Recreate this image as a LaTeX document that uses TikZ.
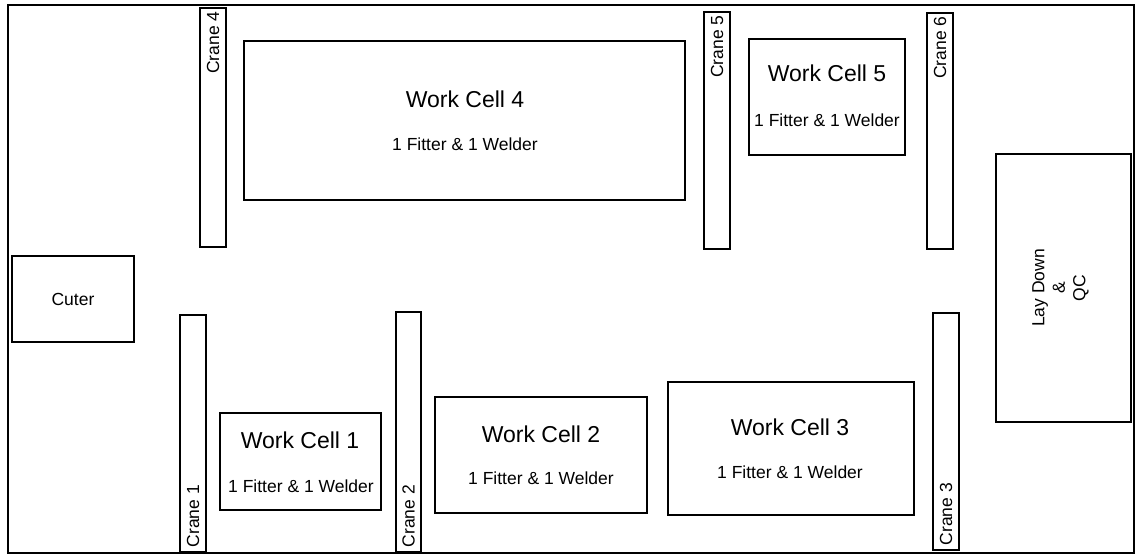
\documentclass[tikz,border=0pt]{standalone}
\usepackage{fontspec}
\setmainfont{Liberation Sans}
\usetikzlibrary{fit,calc}
\begin{document}
\begin{tikzpicture}[x=1pt,y=-1pt,
  box/.style={draw, line width=1.3pt, inner sep=0pt},
  ttl/.style={font=\fontsize{23}{27}\selectfont, inner sep=0pt},
  sub/.style={font=\fontsize{17.5}{21}\selectfont, inner sep=0pt},
  crlab/.style={font=\fontsize{17.5}{20.5}\selectfont, rotate=90, inner sep=0pt}]
\useasboundingbox (0,0) rectangle (1136,555);
\fill[white] (0,0) rectangle (1136,555);
\node[draw, line width=1.6pt, inner sep=0pt, fit={(8,5)(1134,553)}] (hall) {};
% top row
\node[box, fit={(200,8)(226,247)}] (c4) {};
\node[box, fit={(244,41)(685,200)}] (wc4) {};
\node[box, fit={(704,12)(730,249)}] (c5) {};
\node[box, fit={(749,39)(905,155)}] (wc5) {};
\node[box, fit={(927,13)(953,249)}] (c6) {};
\node[box, fit={(996,154)(1131,422)}] (lay) {};
% bottom row
\node[box, fit={(12,256)(134,342)}] (cut) {};
\node[box, fit={(180,315)(206,552)}] (c1) {};
\node[box, fit={(220,413)(381,510)}] (wc1) {};
\node[box, fit={(396,312)(421,552)}] (c2) {};
\node[box, fit={(435,397)(647,513)}] (wc2) {};
\node[box, fit={(668,382)(914,515)}] (wc3) {};
\node[box, fit={(933,313)(959,550)}] (c3) {};
% crane labels
\node[crlab, anchor=east] (lc4) at ($(c4.north)+(0,4)$) {Crane 4};
\node[crlab, anchor=east] (lc5) at ($(c5.north)+(0,4)$) {Crane 5};
\node[crlab, anchor=east] (lc6) at ($(c6.north)+(0,4)$) {Crane 6};
\node[crlab, anchor=west] (lc1) at ($(c1.south)+(0,-5)$) {Crane 1};
\node[crlab, anchor=west] (lc2) at ($(c2.south)+(0,-5)$) {Crane 2};
\node[crlab, anchor=west] (lc3) at ($(c3.south)+(0,-5)$) {Crane 3};
% work cell labels
\node[ttl] (t4) at (465,99) {Work Cell 4};
\node[sub] (s4) at (465,144) {1 Fitter \& 1 Welder};
\node[ttl] (t5) at (827,73) {Work Cell 5};
\node[sub] (s5) at (827,120) {1 Fitter \& 1 Welder};
\node[ttl] (t1) at (300,440) {Work Cell 1};
\node[sub] (s1) at (301,486) {1 Fitter \& 1 Welder};
\node[ttl] (t2) at (541,434) {Work Cell 2};
\node[sub] (s2) at (541,478) {1 Fitter \& 1 Welder};
\node[ttl] (t3) at (790,427) {Work Cell 3};
\node[sub] (s3) at (790,472) {1 Fitter \& 1 Welder};
\node[sub] (tc) at (cut.center) {Cuter};
\node[crlab, align=center] (tl) at ($(lay.center)+(-3,0)$) {Lay Down\\\&\\QC};
\end{tikzpicture}
\end{document}
